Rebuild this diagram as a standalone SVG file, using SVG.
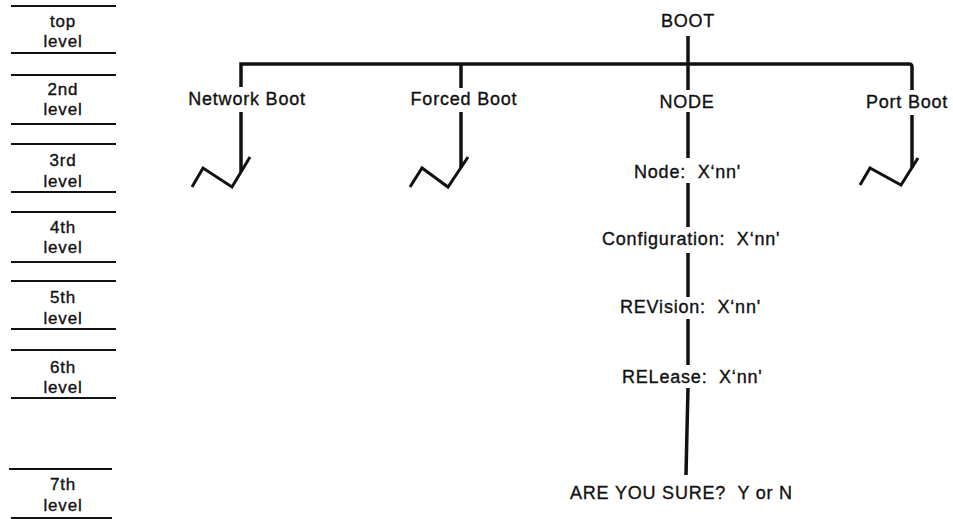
<svg xmlns="http://www.w3.org/2000/svg" width="953" height="519" viewBox="0 0 953 519">
<style>
text{font-family:"Liberation Sans",Arial,sans-serif;font-size:18px;fill:#111;stroke:#111;stroke-width:0.35;letter-spacing:0.8px}
.m{text-anchor:middle}
.lv{font-size:17px}
.rule{stroke:#111;stroke-width:2}
.ln{stroke:#111;stroke-width:3.5;fill:none;stroke-linecap:butt}
.zz{stroke:#111;stroke-width:3;fill:none;stroke-linejoin:miter}
</style>
<rect width="953" height="519" fill="#fff"/>
<g id="levels">
<line class="rule" x1="11" y1="6" x2="116" y2="6"/>
<line class="rule" x1="11" y1="53" x2="116" y2="53"/>
<text class="m lv" x="63" y="27">top</text><text class="m lv" x="63" y="47">level</text>
<line class="rule" x1="11" y1="75" x2="116" y2="75"/>
<line class="rule" x1="11" y1="124" x2="116" y2="124"/>
<text class="m lv" x="63" y="95">2nd</text><text class="m lv" x="63" y="115">level</text>
<line class="rule" x1="11" y1="144" x2="116" y2="144"/>
<line class="rule" x1="11" y1="192" x2="116" y2="192"/>
<text class="m lv" x="63" y="166">3rd</text><text class="m lv" x="63" y="187">level</text>
<line class="rule" x1="11" y1="212" x2="116" y2="212"/>
<line class="rule" x1="11" y1="262" x2="116" y2="262"/>
<text class="m lv" x="63" y="233">4th</text><text class="m lv" x="63" y="253">level</text>
<line class="rule" x1="11" y1="281" x2="116" y2="281"/>
<line class="rule" x1="11" y1="329" x2="116" y2="329"/>
<text class="m lv" x="63" y="303">5th</text><text class="m lv" x="63" y="324">level</text>
<line class="rule" x1="11" y1="350" x2="116" y2="350"/>
<line class="rule" x1="11" y1="398" x2="116" y2="398"/>
<text class="m lv" x="63" y="373">6th</text><text class="m lv" x="63" y="393">level</text>
<line class="rule" x1="9" y1="469" x2="112" y2="469"/>
<line class="rule" x1="11" y1="518" x2="112" y2="518"/>
<text class="m lv" x="63" y="490">7th</text><text class="m lv" x="63" y="511">level</text>
</g>
<g id="connectors">
<path class="ln" d="M241,87 V64 H909 Q912,64 912,67 V90"/>
<line class="ln" x1="688" y1="36" x2="688" y2="90"/>
<line class="ln" x1="461" y1="64" x2="461" y2="88"/>
<line class="ln" x1="241" y1="112" x2="241" y2="172"/>
<line class="ln" x1="461" y1="112" x2="461" y2="168"/>
<line class="ln" x1="912" y1="115" x2="912" y2="168"/>
<line class="ln" x1="688" y1="112" x2="688" y2="158"/>
<line class="ln" x1="688" y1="183" x2="688" y2="227"/>
<line class="ln" x1="688" y1="253" x2="688" y2="297"/>
<line class="ln" x1="688" y1="319" x2="688" y2="365"/>
<path class="ln" d="M688,388 L687,430 L686,475"/>
<polyline class="zz" points="192,187 203,168 232,187 250,157"/>
<polyline class="zz" points="410,187 422,168 448,187 468,157"/>
<polyline class="zz" points="860,185 870,168 901,185 918,158"/>
</g>
<g id="boot"><text class="m" x="688" y="27">BOOT</text></g>
<g id="network-boot"><text class="m" x="247" y="105">Network Boot</text></g>
<g id="forced-boot"><text class="m" x="464" y="105">Forced Boot</text></g>
<g id="node"><text class="m" x="687" y="108">NODE</text></g>
<g id="port-boot"><text class="m" x="907" y="108">Port Boot</text></g>
<g id="node-value"><text x="634" y="178" xml:space="preserve">Node:  X‘nn'</text></g>
<g id="configuration"><text x="602" y="245" xml:space="preserve">Configuration:  X‘nn'</text></g>
<g id="revision"><text x="620" y="313" xml:space="preserve">REVision:  X‘nn'</text></g>
<g id="release"><text x="622" y="383" xml:space="preserve">RELease:  X‘nn'</text></g>
<g id="confirm"><text x="570" y="499" xml:space="preserve">ARE YOU SURE?  Y or N</text></g>
</svg>
